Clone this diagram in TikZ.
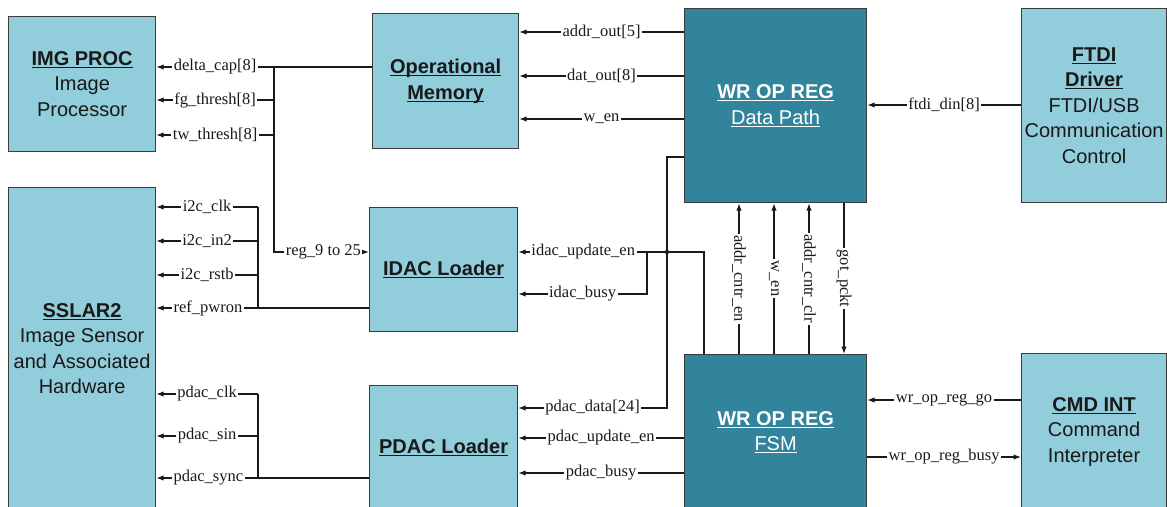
\documentclass[tikz,border=0pt]{standalone}
\usepackage{fontspec}
\setmainfont{Liberation Serif}
\newfontfamily\boxsans{Liberation Sans}
\usetikzlibrary{arrows.meta,calc}
\definecolor{lightaqua}{HTML}{92CDDC}
\definecolor{darkaqua}{HTML}{31849B}
\definecolor{boxline}{HTML}{3A3A3A}
\definecolor{wirec}{HTML}{1A1A1A}
\newcommand{\ulx}[1]{\setbox0\hbox{#1}\rlap{#1}\rule[-2.6pt]{\wd0}{1.1pt}}
\begin{document}
\begin{tikzpicture}[x=1pt,y=-1pt,
  lbox/.style={draw=boxline, fill=lightaqua, line width=1.2pt, align=center,
    font=\boxsans\fontsize{20}{25.5}\selectfont, text=black!90, inner sep=0pt, anchor=north west},
  dbox/.style={lbox, fill=darkaqua, text=white},
  wire/.style={line width=1.3pt, draw=wirec},
  arr/.style={wire, -{Latex[length=7.5pt,width=5.5pt]}},
  lbl/.style={fill=white, inner xsep=1.5pt, inner ysep=1pt, font=\fontsize{16.5}{16.5}\selectfont, text=wirec}]
\useasboundingbox (0,0) rectangle (1167,506);

% boxes
\node[lbox, minimum width=147pt, minimum height=135pt] (img) at (8,16)
  {\textbf{\ulx{IMG PROC}}\\Image\\Processor};
\node[lbox, minimum width=147pt, minimum height=322pt] (sslar) at (8,187)
  {\textbf{\ulx{SSLAR2}}\\Image Sensor\\and Associated\\Hardware};
\node[lbox, minimum width=146pt, minimum height=135pt] (opm) at (372,13)
  {\textbf{\ulx{Operational}}\\\textbf{\ulx{Memory}}};
\node[lbox, minimum width=148pt, minimum height=124pt] (idac) at (369,207)
  {\textbf{\ulx{IDAC Loader}}};
\node[lbox, minimum width=148pt, minimum height=124pt] (pdac) at (369,385)
  {\textbf{\ulx{PDAC Loader}}};
\node[dbox, minimum width=182pt, minimum height=194pt] (dp) at (684,8)
  {\textbf{\ulx{WR OP REG}}\\\ulx{Data Path}};
\node[dbox, minimum width=182pt, minimum height=155pt] (fsm) at (684,354)
  {\textbf{\ulx{WR OP REG}}\\\ulx{FSM}};
\node[lbox, minimum width=145pt, minimum height=194pt] (ftdi) at (1021,8)
  {\textbf{\ulx{FTDI}}\\\textbf{\ulx{Driver}}\\FTDI/USB\\Communication\\Control};
\node[lbox, minimum width=145pt, minimum height=156pt] (cmd) at (1021,353)
  {\textbf{\ulx{CMD INT}}\\Command\\Interpreter};

% operational memory bus
\coordinate (b1) at (274,67);
\coordinate (b2) at (274,252);
\draw[arr] (opm.west |- b1) -- (b1) -- (b2) -- (idac.west |- b2) node[lbl,pos=0.52]{reg\_9 to 25};
\draw[arr] (b1) -- (img.east |- b1) node[lbl,midway]{delta\_cap[8]};
\coordinate (b3) at (274,100);
\draw[arr] (b3) -- (img.east |- b3) node[lbl,midway]{fg\_thresh[8]};
\coordinate (b4) at (274,135);
\draw[arr] (b4) -- (img.east |- b4) node[lbl,midway]{tw\_thresh[8]};

% i2c bus
\coordinate (i1) at (258,207);
\coordinate (i2) at (258,241);
\coordinate (i3) at (258,275);
\coordinate (i4) at (258,308);
\draw[wire] (i1) -- (i4);
\draw[arr] (i1) -- (sslar.east |- i1) node[lbl,midway]{i2c\_clk};
\draw[arr] (i2) -- (sslar.east |- i2) node[lbl,midway]{i2c\_in2};
\draw[arr] (i3) -- (sslar.east |- i3) node[lbl,midway]{i2c\_rstb};
\draw[arr] (idac.west |- i4) -- (sslar.east |- i4) node[lbl,pos=0.757]{ref\_pwron};

% pdac bus
\coordinate (q1) at (258,394);
\coordinate (q2) at (258,436);
\coordinate (q3) at (258,478);
\draw[wire] (q1) -- (q3);
\draw[arr] (q1) -- (sslar.east |- q1) node[lbl,midway]{pdac\_clk};
\draw[arr] (q2) -- (sslar.east |- q2) node[lbl,midway]{pdac\_sin};
\draw[arr] (pdac.west |- q3) -- (sslar.east |- q3) node[lbl,pos=0.755]{pdac\_sync};

% data path to operational memory
\draw[arr] (dp.west |- 0,32) -- (opm.east |- 0,32) node[lbl,midway]{addr\_out[5]};
\draw[arr] (dp.west |- 0,76) -- (opm.east |- 0,76) node[lbl,midway]{dat\_out[8]};
\draw[arr] (dp.west |- 0,119) -- (opm.east |- 0,119) node[lbl,midway]{w\_en};

% ftdi
\draw[arr] (ftdi.west |- 0,105) -- (dp.east |- 0,105) node[lbl,midway]{ftdi\_din[8]};

% pdac data
\coordinate (p1) at (667,157);
\coordinate (p2) at (667,408);
\draw[arr] (dp.west |- p1) -- (p1) -- (p2) -- (pdac.east |- p2) node[lbl,midway]{pdac\_data[24]};

% idac update / busy
\coordinate (u1) at (704,252);
\draw[arr] (fsm.north -| u1) -- (u1) -- (idac.east |- u1) node[lbl,pos=0.65]{idac\_update\_en};
\fill[wirec] (667,252) circle (2.2pt);
\coordinate (ub1) at (647,252);
\coordinate (ub2) at (647,294);
\draw[arr] (ub1) -- (ub2) -- (idac.east |- ub2) node[lbl,midway]{idac\_busy};

% fsm to pdac
\draw[arr] (fsm.west |- 0,438) -- (pdac.east |- 0,438) node[lbl,midway]{pdac\_update\_en};
\draw[arr] (fsm.west |- 0,473) -- (pdac.east |- 0,473) node[lbl,midway]{pdac\_busy};

% cmd int
\draw[arr] (cmd.west |- 0,400) -- (fsm.east |- 0,400) node[lbl,midway]{wr\_op\_reg\_go};
\draw[arr] (fsm.east |- 0,457) -- (cmd.west |- 0,457) node[lbl,midway]{wr\_op\_reg\_busy};

% fsm <-> data path
\draw[arr] (fsm.north -| 739,0) -- (dp.south -| 739,0) node[lbl,midway,rotate=-90]{addr\_cntr\_en};
\draw[arr] (fsm.north -| 774,0) -- (dp.south -| 774,0) node[lbl,midway,rotate=-90]{w\_en};
\draw[arr] (fsm.north -| 809,0) -- (dp.south -| 809,0) node[lbl,midway,rotate=-90]{addr\_cntr\_clr};
\draw[arr] (dp.south -| 844,0) -- (fsm.north -| 844,0) node[lbl,midway,rotate=-90]{got\_pckt};
\end{tikzpicture}
\end{document}
